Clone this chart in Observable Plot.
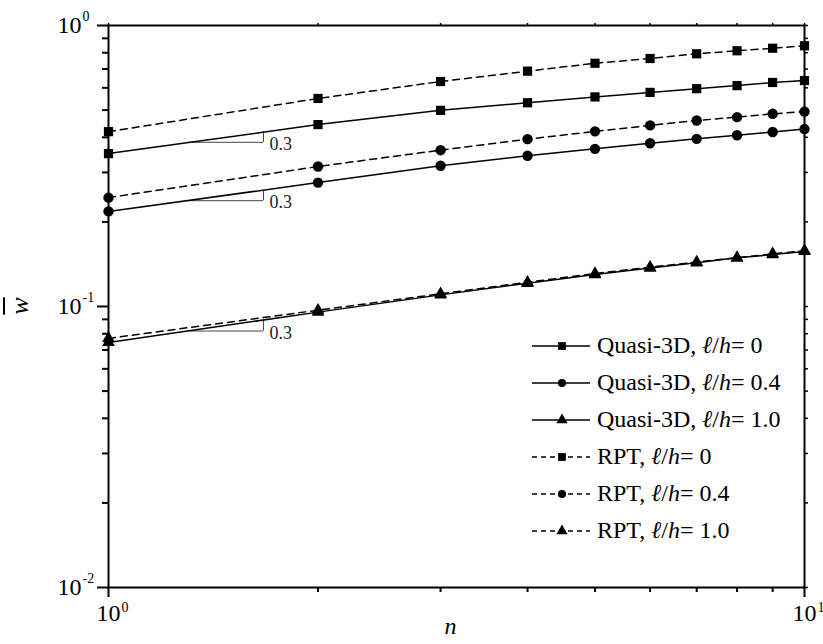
<!DOCTYPE html>
<html><head><meta charset="utf-8">
<script src="https://cdn.jsdelivr.net/npm/d3@7"></script>
<script src="https://cdn.jsdelivr.net/npm/@observablehq/plot@0.6"></script>
<style>
body{margin:0;background:#fff;}
#wrap{position:relative;width:823px;height:644px;font-family:"Liberation Serif","Times New Roman",serif;overflow:hidden;}
.row{position:absolute;left:532px;height:37px;display:flex;align-items:center;font-size:24px;color:#000;white-space:nowrap;}
.row svg{margin-right:7px;display:block}
.row i{font-style:italic}
#ylab{position:absolute;left:20px;top:306px;font-size:26px;font-style:italic;text-decoration:overline;transform:translate(-50%,-50%) rotate(-90deg);line-height:1;}
</style></head><body><div id="wrap"></div>
<script>
// ---- data ----
const nValues = [1, 2, 3, 4, 5, 6, 7, 8, 9, 10];
const quasi0  = [0.350, 0.444, 0.499, 0.531, 0.557, 0.578, 0.596, 0.611, 0.627, 0.637];
const quasi04 = [0.218, 0.276, 0.317, 0.344, 0.364, 0.381, 0.395, 0.407, 0.418, 0.428];
const quasi10 = [0.0745, 0.0955, 0.110, 0.121, 0.130, 0.137, 0.143, 0.149, 0.153, 0.157];
const rpt0    = [0.419, 0.550, 0.632, 0.688, 0.734, 0.763, 0.793, 0.813, 0.830, 0.847];
const rpt04   = [0.244, 0.315, 0.360, 0.394, 0.420, 0.441, 0.459, 0.472, 0.485, 0.494];
const rpt10   = [0.077, 0.097, 0.111, 0.122, 0.131, 0.138, 0.144, 0.149, 0.154, 0.158];
const seriesModels = ["Quasi-3D", "Quasi-3D", "Quasi-3D", "RPT", "RPT", "RPT"];
const seriesRatios = ["0", "0.4", "1.0", "0", "0.4", "1.0"];
const seriesSymbols = ["square", "circle", "triangle", "square", "circle", "triangle"];
const seriesDashed = [false, false, false, true, true, true];
const seriesValues = [quasi0, quasi04, quasi10, rpt0, rpt04, rpt10];

const yMajor = [0.01, 0.1, 1];
const yMajorExp = ["-2", "-1", "0"];
const yMinor = [0.02,0.03,0.04,0.05,0.06,0.07,0.08,0.09,0.2,0.3,0.4,0.5,0.6,0.7,0.8,0.9];
const xMajor = [1, 10];
const xMajorExp = ["0", "1"];
const xMinor = [2, 3, 4, 5, 6, 7, 8, 9];

// slope-marker triangles (data units)
const slopeX0 = [1.3, 1.3, 1.3];
const slopeX1 = [1.67, 1.67, 1.67];
const slopeYLow = [0.384, 0.238, 0.0818];
const slopeYHigh = [0.418, 0.259, 0.0895];
const slopeLabels = ["0.3", "0.3", "0.3"];

// ---- build tables ----
const rows = seriesValues.flatMap((vals, s) => nValues.map((n, j) => ({
  series: s, n, w: vals[j], symbol: seriesSymbols[s], dashed: seriesDashed[s]
})));
const slopes = slopeX0.map((x0, i) => ({x0, x1: slopeX1[i], lo: slopeYLow[i], hi: slopeYHigh[i], label: slopeLabels[i]}));

const serif = "Liberation Serif, Times New Roman, serif";
const symR = {square: 5.2, circle: 5.2, triangle: 4.7};

const marks = [
  // slope markers
  Plot.ruleY(slopes, {y: "lo", x1: "x0", x2: "x1", stroke: "#444", strokeWidth: 1}),
  Plot.ruleX(slopes, {x: "x1", y1: "lo", y2: "hi", stroke: "#444", strokeWidth: 1}),
  Plot.text(slopes, {x: "x1", y: "lo", text: "label", dx: 6, dy: 2, textAnchor: "start", fontSize: 18, fontFamily: serif, fill: "#222", style: "letter-spacing:2px"}),
  // lines
  Plot.line(rows.filter(d => !d.dashed), {x: "n", y: "w", z: "series", stroke: "black", strokeWidth: 1.5}),
  Plot.line(rows.filter(d => d.dashed), {x: "n", y: "w", z: "series", stroke: "black", strokeWidth: 1.5, strokeDasharray: "7,5"}),
  ...["square", "circle", "triangle"].map(sym =>
    Plot.dot(rows.filter(d => d.symbol === sym), {x: "n", y: "w", symbol: sym, r: symR[sym], fill: "black", stroke: "none"})),
  // frame and ticks
  Plot.frame({stroke: "black", strokeWidth: 2}),
  Plot.axisY({ticks: yMajor, anchor: "left", tickSize: 11, strokeWidth: 2, tickFormat: () => "", label: null}),
  Plot.axisY({ticks: yMinor, anchor: "left", tickSize: 6, strokeWidth: 2, tickFormat: () => "", label: null}),
  Plot.axisY({ticks: yMinor.concat(yMajor), anchor: "right", tickSize: 3, strokeWidth: 1.5, tickFormat: () => "", label: null}),
  Plot.axisX({ticks: xMajor, anchor: "bottom", tickSize: 10, strokeWidth: 2, tickFormat: () => "", label: null}),
  Plot.axisX({ticks: xMinor, anchor: "bottom", tickSize: 5, strokeWidth: 2, tickFormat: () => "", label: null}),
  Plot.axisX({ticks: xMinor.concat(xMajor), anchor: "top", tickSize: 3, strokeWidth: 1.5, tickFormat: () => "", label: null}),
  // tick labels
  Plot.text(yMajor, {y: d => d, frameAnchor: "left", dx: -27, text: () => "10", textAnchor: "end", fontSize: 24, fontFamily: serif, fill: "black"}),
  Plot.text(yMajor, {y: d => d, frameAnchor: "left", dx: -26, dy: -9, text: (d, i) => yMajorExp[i], textAnchor: "start", fontSize: 14, fontFamily: serif, fill: "black"}),
  Plot.text(xMajor, {x: d => d, frameAnchor: "bottom", dy: 33, dx: 12, text: () => "10", textAnchor: "end", fontSize: 24, fontFamily: serif, fill: "black"}),
  Plot.text(xMajor, {x: d => d, frameAnchor: "bottom", dy: 24, dx: 13, text: (d, i) => xMajorExp[i], textAnchor: "start", fontSize: 14, fontFamily: serif, fill: "black"}),
  // axis label n
  Plot.text(["n"], {frameAnchor: "bottom", dy: 46, dx: -6, text: d => d, fontSize: 24, fontStyle: "italic", fontFamily: serif, fill: "black"})
];

const chart = Plot.plot({
  width: 823, height: 644,
  marginLeft: 108, marginRight: 19, marginTop: 25, marginBottom: 57,
  x: {type: "log", domain: [1, 10], axis: null},
  y: {type: "log", domain: [0.01, 1], axis: null},
  style: {background: "white", overflow: "visible"},
  marks
});
const wrap = document.getElementById("wrap");
wrap.appendChild(chart);

// y axis label
const ylab = document.createElement("div");
ylab.id = "ylab"; ylab.textContent = "w";
wrap.appendChild(ylab);

// legend (inside plot area, lower right)
const symPath = {square: d3.symbolSquare, circle: d3.symbolCircle, triangle: d3.symbolTriangle};
const symSize = {square: 60, circle: 52, triangle: 55};
seriesModels.forEach((m, i) => {
  const row = document.createElement("div");
  row.className = "row";
  row.style.top = (327 + i * 37) + "px";
  const svg = d3.create("svg").attr("width", 58).attr("height", 20);
  svg.append("line").attr("x1", 0).attr("x2", 58).attr("y1", 10).attr("y2", 10)
    .attr("stroke", "black").attr("stroke-width", 1.5)
    .attr("stroke-dasharray", seriesDashed[i] ? "5,4" : null);
  svg.append("path").attr("transform", "translate(30,10)")
    .attr("d", d3.symbol(symPath[seriesSymbols[i]], symSize[seriesSymbols[i]])()).attr("fill", "black");
  row.appendChild(svg.node());
  const t = document.createElement("span");
  t.innerHTML = m + ", <i>ℓ</i>/<i>h</i>= " + seriesRatios[i];
  row.appendChild(t);
  wrap.appendChild(row);
});
</script></body></html>
